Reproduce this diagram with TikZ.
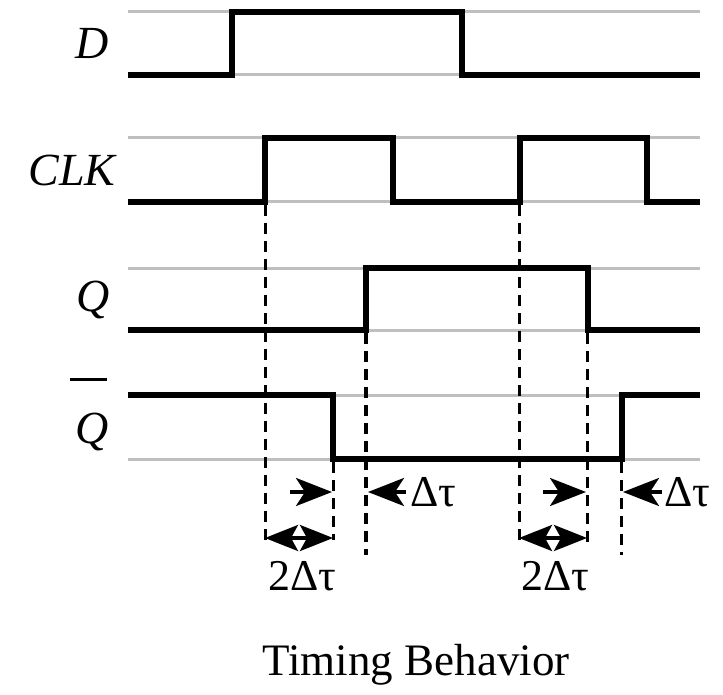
\documentclass[tikz,border=0pt]{standalone}
\usepackage{fontspec}
\setmainfont{Liberation Serif}
\usetikzlibrary{arrows.meta}
\begin{document}
\begin{tikzpicture}[x=1pt,y=-1pt,
  sig/.style={line width=5.5pt, line join=miter},
  reflvl/.style={line width=3pt, color=black!25},
  guide/.style={line width=3pt, dash pattern=on 11pt off 7pt},
  lbl/.style={font=\fontsize{46}{50}\selectfont\itshape, inner sep=0pt},
  dt/.style={font=\fontsize{44}{48}\selectfont, inner sep=0pt},
  pointer/.style={-{Stealth[length=36pt,width=28pt,inset=9pt]}, line width=3.5pt},
  span/.style={{Stealth[length=33pt,width=26pt,inset=7pt]}-{Stealth[length=33pt,width=26pt,inset=7pt]}, line width=3.5pt}]
\useasboundingbox (0,0) rectangle (723,695);

% reference levels
\foreach \yy in {12,75,138,202,268,330,395,459}
  \draw[reflvl] (128,\yy) -- (700,\yy);

% labels
\node[lbl] (lD) at (92,43) {D};
\node[lbl] (lQ) at (93,300) {Q};
\node[lbl] (lCLK) at (72,170) {CLK};
\node[lbl, anchor=base] (lQb) at (92,443) {\setbox0\hbox{Q}\rlap{\hspace{-5pt}\raisebox{1.35em}{\rule{37pt}{2.5pt}}}\box0};

% signals
\draw[sig] (128,75) -- (232,75) -- (232,12) -- (462,12) -- (462,75) -- (700,75);
\draw[sig] (128,202) -- (265,202) -- (265,138) -- (393,138) -- (393,202) -- (520,202) -- (520,138) -- (647,138) -- (647,202) -- (700,202);
\draw[sig] (128,330) -- (366,330) -- (366,268) -- (588,268) -- (588,330) -- (700,330);
\draw[sig] (128,395) -- (333,395) -- (333,459) -- (622,459) -- (622,395) -- (700,395);

% guide coordinates
\coordinate (c1t) at (265,205); \coordinate (c1b) at (265,542);
\coordinate (f1t) at (333,462); \coordinate (f1b) at (333,540);
\coordinate (r1t) at (366,333); \coordinate (r1b) at (366,555);
\coordinate (c2t) at (519,205); \coordinate (c2b) at (519,543);
\coordinate (f2t) at (587,333); \coordinate (f2b) at (587,545);
\coordinate (r2t) at (621,462); \coordinate (r2b) at (621,555);
\draw[guide] (c1t) -- (c1b);
\draw[guide] (f1t) -- (f1b);
\draw[guide, line width=4pt] (r1t) -- (r1b);
\draw[guide] (c2t) -- (c2b);
\draw[guide] (f2t) -- (f2b);
\draw[guide] (r2t) -- (r2b);

% delay arrows
\coordinate (a1s) at (290,492); \coordinate (a1e) at (332,492);
\coordinate (a2s) at (406,492); \coordinate (a2e) at (368,492);
\coordinate (a3s) at (543,492); \coordinate (a3e) at (586,492);
\coordinate (a4s) at (662,492); \coordinate (a4e) at (623,492);
\draw[pointer] (a1s) -- (a1e);
\draw[pointer] (a2s) -- (a2e);
\draw[pointer] (a3s) -- (a3e);
\draw[pointer] (a4s) -- (a4e);
\node[dt, anchor=west] (t1) at (410,492) {Δτ};
\node[dt, anchor=west] (t2) at (664,492) {Δτ};

\coordinate (s1a) at (265,538); \coordinate (s1b) at (333,538);
\coordinate (s2a) at (519,538); \coordinate (s2b) at (587,538);
\draw[span] (s1a) -- (s1b);
\draw[span] (s2a) -- (s2b);
\node[dt] (t3) at (302,576) {2Δτ};
\node[dt] (t4) at (555,576) {2Δτ};

\node[font=\fontsize{45}{50}\selectfont, inner sep=0pt] (title) at (416,665) {Timing Behavior};
\end{tikzpicture}
\end{document}
